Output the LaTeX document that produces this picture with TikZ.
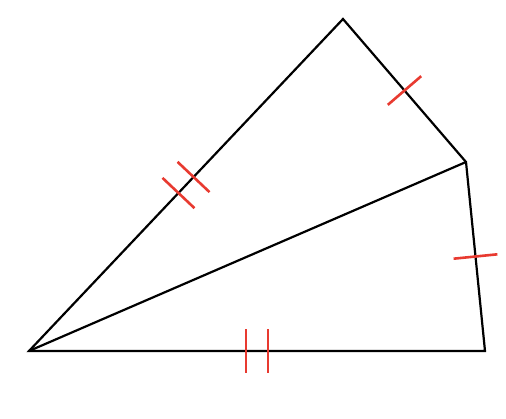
\documentclass[tikz,border=0pt]{standalone}
\usetikzlibrary{calc}
\definecolor{tickred}{RGB}{232,58,48}
\begin{document}
\begin{tikzpicture}[x=1pt,y=-1pt,
  edge/.style={line width=2.2pt,black,line join=miter},
  tickmark/.style={line width=2.6pt,tickred}]
\useasboundingbox (0,0) rectangle (506,418);
\coordinate (A) at (29,351);
\coordinate (B) at (343,19);
\coordinate (C) at (466,162);
\coordinate (D) at (485,351);
\draw[edge] (A) -- (B) -- (C) -- (D) -- cycle;
\draw[edge] (A) -- (C);
% single ticks
\coordinate (mBC) at ($(B)!0.5!(C)$);
\draw[tickmark] ($(mBC)!22pt!90:(C)$) -- ($(mBC)!22pt!-90:(C)$);
\coordinate (mCD) at ($(C)!0.5!(D)$);
\draw[tickmark] ($(mCD)!22pt!90:(D)$) -- ($(mCD)!22pt!-90:(D)$);
% double ticks
\coordinate (mAB) at ($(A)!0.5!(B)$);
\coordinate (mAB1) at ($(mAB)!11pt!(B)$);
\coordinate (mAB2) at ($(mAB)!-11pt!(B)$);
\draw[tickmark] ($(mAB1)!22pt!90:(B)$) -- ($(mAB1)!22pt!-90:(B)$);
\draw[tickmark] ($(mAB2)!22pt!90:(B)$) -- ($(mAB2)!22pt!-90:(B)$);
\coordinate (mAD) at ($(A)!0.5!(D)$);
\coordinate (mAD1) at ($(mAD)!11pt!(D)$);
\coordinate (mAD2) at ($(mAD)!-11pt!(D)$);
\draw[tickmark] ($(mAD1)!22pt!90:(D)$) -- ($(mAD1)!22pt!-90:(D)$);
\draw[tickmark] ($(mAD2)!22pt!90:(D)$) -- ($(mAD2)!22pt!-90:(D)$);
\end{tikzpicture}
\end{document}
